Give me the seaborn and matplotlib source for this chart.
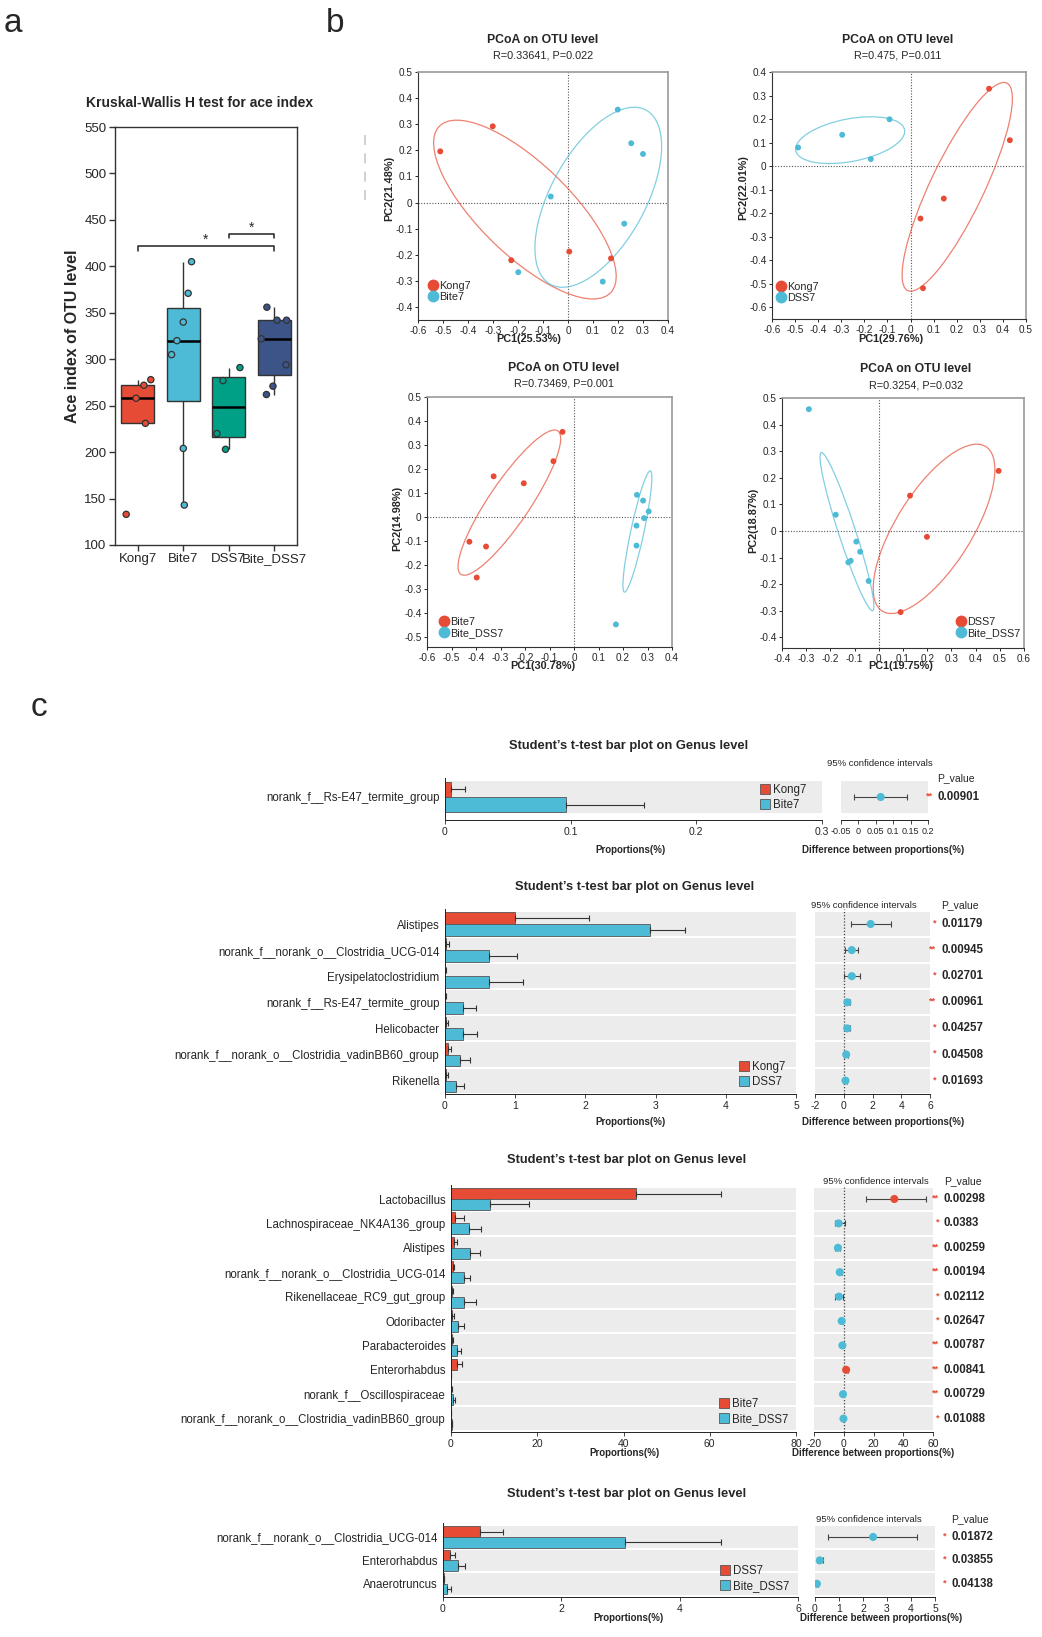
import numpy as np
import pandas as pd
import seaborn as sns
import matplotlib.pyplot as plt
from matplotlib.patches import Ellipse, Patch
from matplotlib.lines import Line2D

RED = '#E64B35'
BLUE = '#4DBBD5'
GREEN = '#00A087'
NAVY = '#3C5488'

# ---- a: ace index per group
ace_groups = ['Kong7', 'Bite7', 'DSS7', 'Bite_DSS7']
ace_kong7 = [133, 231, 258, 272, 278]
ace_bite7 = [143, 204, 305, 320, 340, 371, 405]
ace_dss7 = [203, 220, 277, 291]
ace_bite_dss7 = [262, 271, 294, 322, 342, 342, 356]

# ---- b: PCoA scores
p1_kong7_x = [-0.511, -0.301, -0.227, 0.005, 0.172]
p1_kong7_y = [0.196, 0.292, -0.221, -0.188, -0.214]
p1_bite7_x = [0.199, 0.253, 0.300, -0.069, 0.225, -0.199, 0.139]
p1_bite7_y = [0.356, 0.227, 0.186, 0.023, -0.081, -0.267, -0.303]

p2_kong7_x = [0.340, 0.144, 0.043, 0.054, 0.430]
p2_kong7_y = [0.329, -0.138, -0.223, -0.519, 0.110]
p2_dss7_x = [-0.487, -0.296, -0.091, -0.172]
p2_dss7_y = [0.079, 0.133, 0.199, 0.030]

p3_bite7_x = [-0.047, -0.084, -0.205, -0.328, -0.427, -0.359, -0.397]
p3_bite7_y = [0.355, 0.233, 0.141, 0.170, -0.102, -0.122, -0.251]
p3_bite_dss7_x = [0.257, 0.282, 0.305, 0.286, 0.255, 0.255, 0.171]
p3_bite_dss7_y = [0.093, 0.069, 0.024, -0.004, -0.035, -0.118, -0.446]

p4_dss7_x = [0.129, 0.199, 0.090, 0.495]
p4_dss7_y = [0.133, -0.022, -0.305, 0.226]
p4_bite_dss7_x = [-0.289, -0.178, -0.093, -0.077, -0.126, -0.116, -0.042]
p4_bite_dss7_y = [0.458, 0.061, -0.040, -0.078, -0.118, -0.112, -0.188]

# ---- c: t-test bar plots
c1_names = ['norank_f__Rs-E47_termite_group']
c1_kong7 = [0.005]
c1_kong7_sd = [0.011]
c1_bite7 = [0.096]
c1_bite7_sd = [0.062]
c1_diff = [0.064]
c1_lo = [-0.013]
c1_hi = [0.141]
c1_p = ['0.00901']
c1_stars = ['**']

c2_names = ['Alistipes', 'norank_f__norank_o__Clostridia_UCG-014', 'Erysipelatoclostridium',
            'norank_f__Rs-E47_termite_group', 'Helicobacter',
            'norank_f__norank_o__Clostridia_vadinBB60_group', 'Rikenella']
c2_kong7 = [1.0, 0.01, 0.005, 0.005, 0.02, 0.04, 0.02]
c2_kong7_sd = [1.05, 0.04, 0.01, 0.01, 0.02, 0.05, 0.02]
c2_dss7 = [2.92, 0.63, 0.62, 0.26, 0.25, 0.21, 0.16]
c2_dss7_sd = [0.50, 0.39, 0.49, 0.18, 0.21, 0.15, 0.11]
c2_diff = [1.87, 0.56, 0.56, 0.25, 0.24, 0.17, 0.12]
c2_lo = [0.53, 0.12, 0.04, 0.10, 0.06, 0.04, 0.03]
c2_hi = [3.28, 0.98, 1.10, 0.40, 0.42, 0.30, 0.22]
c2_p = ['0.01179', '0.00945', '0.02701', '0.00961', '0.04257', '0.04508', '0.01693']
c2_stars = ['*', '**', '*', '**', '*', '*', '*']

c3_names = ['Lactobacillus', 'Lachnospiraceae_NK4A136_group', 'Alistipes',
            'norank_f__norank_o__Clostridia_UCG-014', 'Rikenellaceae_RC9_gut_group',
            'Odoribacter', 'Parabacteroides', 'Enterorhabdus', 'norank_f__Oscillospiraceae',
            'norank_f__norank_o__Clostridia_vadinBB60_group']
c3_bite7 = [43.0, 1.0, 0.6, 0.35, 0.2, 0.2, 0.3, 1.4, 0.1, 0.05]
c3_bite7_sd = [19.5, 2.1, 0.7, 0.45, 0.15, 0.5, 0.2, 1.2, 0.1, 0.05]
c3_bite_dss7 = [9.0, 4.1, 4.3, 2.9, 3.0, 1.6, 1.4, 0.05, 0.5, 0.2]
c3_bite_dss7_sd = [9.2, 2.9, 2.5, 1.6, 2.9, 1.5, 0.9, 0.05, 0.4, 0.1]
c3_diff = [34.0, -3.4, -3.9, -2.7, -3.2, -1.4, -0.9, 1.6, -0.5, -0.2]
c3_lo = [15.1, -6.2, -5.6, -4.1, -5.9, -2.4, -1.8, 0.6, -1.0, -0.4]
c3_hi = [55.5, 0.7, -2.2, -1.3, -0.5, -0.4, 0.0, 2.6, 0.0, 0.0]
c3_p = ['0.00298', '0.0383', '0.00259', '0.00194', '0.02112',
        '0.02647', '0.00787', '0.00841', '0.00729', '0.01088']
c3_stars = ['**', '*', '**', '**', '*', '*', '**', '**', '**', '*']

c4_names = ['norank_f__norank_o__Clostridia_UCG-014', 'Enterorhabdus', 'Anaerotruncus']
c4_dss7 = [0.63, 0.12, 0.01]
c4_dss7_sd = [0.39, 0.08, 0.005]
c4_bite_dss7 = [3.07, 0.25, 0.07]
c4_bite_dss7_sd = [1.63, 0.13, 0.06]
c4_diff = [2.42, 0.20, 0.08]
c4_lo = [0.56, 0.08, 0.03]
c4_hi = [4.27, 0.32, 0.13]
c4_p = ['0.01872', '0.03855', '0.04138']
c4_stars = ['*', '*', '*']


sns.set_style('ticks')
plt.rcParams['font.family'] = ['Liberation Sans', 'DejaVu Sans']

W, H = 1042, 1637
fig = plt.figure(figsize=(W / 100, H / 100), dpi=100)


def box(x0, y0, x1, y1):
    return [x0 / W, 1 - y1 / H, (x1 - x0) / W, (y1 - y0) / H]


def put(x, y, s, **kw):
    kw.setdefault('ha', 'center')
    kw.setdefault('va', 'center')
    fig.text(x / W, 1 - y / H, s, **kw)


def fmt(v):
    return '0' if abs(v) < 1e-9 else f'{v:g}'


put(4, 23, 'a', fontsize=24, ha='left')
put(326, 23, 'b', fontsize=24, ha='left')
put(31, 708, 'c', fontsize=24, ha='left')

# ------------------------------------------------------------------ panel a
ace = pd.DataFrame({
    'group': [g for g, v in zip(ace_groups, [ace_kong7, ace_bite7, ace_dss7, ace_bite_dss7]) for _ in v],
    'ace': ace_kong7 + ace_bite7 + ace_dss7 + ace_bite_dss7})
pal_a = dict(zip(ace_groups, [RED, BLUE, GREEN, NAVY]))

ax = fig.add_axes(box(115, 127, 297, 545))
sns.boxplot(data=ace, x='group', y='ace', hue='group', order=ace_groups, palette=pal_a,
            width=0.72, saturation=1, showfliers=False, showcaps=False, linewidth=1,
            linecolor='#333333', medianprops=dict(color='black', linewidth=1.8),
            legend=False, ax=ax)
np.random.seed(7)
sns.stripplot(data=ace, x='group', y='ace', hue='group', order=ace_groups, palette=pal_a,
              jitter=0.3, size=4.5, linewidth=0.9, edgecolor='#333333', legend=False,
              ax=ax, zorder=3)


def bracket(ax, x0, x1, y, h=5):
    ax.plot([x0, x0, x1, x1], [y - h, y, y, y - h], color='#222222', lw=1.1)
    ax.text((x0 + x1) / 2, y - 1, '*', ha='center', va='bottom', fontsize=10)


bracket(ax, 0, 3, 422)
bracket(ax, 2, 3, 435)
ax.set_xlim(-0.5, 3.5)
ax.set_ylim(100, 550)
ax.set_yticks(range(100, 551, 50))
ax.set_xlabel('')
ax.set_ylabel('Ace index of OTU level', fontsize=11.5, fontweight='bold', labelpad=3)
ax.tick_params(labelsize=9.5, length=4, width=1, color='#333333', pad=2)
for sp in ax.spines.values():
    sp.set_color('#333333')
    sp.set_linewidth(1)
put(86, 103, 'Kruskal-Wallis H test for ace index', ha='left', fontsize=10, fontweight='bold')

# ------------------------------------------------------------------ panel b
K = 1.37


def pcoa(rect, xs, ys, labels, xlim, ylim, yt, title_xy, sub, xlab, xlab_xy, ylab, ylab_xy, leg_xy):
    ax = fig.add_axes(box(*rect))
    df = pd.DataFrame({'pc1': xs[0] + xs[1], 'pc2': ys[0] + ys[1],
                       'group': [labels[0]] * len(xs[0]) + [labels[1]] * len(xs[1])})
    pal = {labels[0]: RED, labels[1]: BLUE}
    ax.axvline(0, color='#555555', lw=0.8, ls=(0, (1, 1.5)), zorder=1)
    ax.axhline(0, color='#555555', lw=0.8, ls=(0, (1, 1.5)), zorder=1)
    sns.scatterplot(data=df, x='pc1', y='pc2', hue='group', palette=pal, s=18,
                    edgecolor='none', legend=False, ax=ax, zorder=3)
    for lab, col in pal.items():
        d = df[df.group == lab]
        vals, vecs = np.linalg.eigh(np.cov(d.pc1, d.pc2))
        ang = np.degrees(np.arctan2(vecs[1, 1], vecs[0, 1]))
        ax.add_patch(Ellipse((d.pc1.mean(), d.pc2.mean()), 2 * K * np.sqrt(vals[1]),
                             2 * K * np.sqrt(vals[0]), angle=ang, fill=False,
                             ec=col, lw=0.9, alpha=0.7))
    ax.set_xlim(*xlim)
    ax.set_ylim(*ylim)
    xt = np.round(np.arange(xlim[0], xlim[1] + 0.001, 0.1), 1)
    ax.set_xticks(xt)
    ax.set_xticklabels([fmt(v) for v in xt])
    ax.set_yticks(yt)
    ax.set_yticklabels([fmt(v) for v in yt])
    ax.set_xlabel('')
    ax.set_ylabel('')
    ax.tick_params(labelsize=7.2, length=2.5, width=0.7, pad=1.5)
    for s in ['left', 'bottom']:
        ax.spines[s].set_color('#333333')
        ax.spines[s].set_linewidth(0.8)
    for s in ['top', 'right']:
        ax.spines[s].set_color('#999999')
        ax.spines[s].set_linewidth(1.2)
    put(*title_xy, 'PCoA on OTU level', fontsize=8.8, fontweight='bold')
    put(title_xy[0], title_xy[1] + 16, sub, fontsize=7.8)
    put(*xlab_xy, xlab, fontsize=7.8, fontweight='bold')
    put(*ylab_xy, ylab, fontsize=7.8, fontweight='bold', rotation=90)
    handles = [Line2D([], [], marker='o', ls='', color=c, markersize=7.5) for c in (RED, BLUE)]
    ax.legend(handles, labels, loc='upper left', bbox_to_anchor=(leg_xy[0] / W, 1 - leg_xy[1] / H),
              bbox_transform=fig.transFigure, frameon=False, fontsize=7.8, handletextpad=0.05,
              labelspacing=0.1, borderpad=0, borderaxespad=0, handlelength=1)


pcoa((418, 72, 668, 320), [p1_kong7_x, p1_bite7_x], [p1_kong7_y, p1_bite7_y], ['Kong7', 'Bite7'],
     (-0.6, 0.4), (-0.45, 0.5), np.round(np.arange(-0.4, 0.51, 0.1), 1), (543, 40),
     'R=0.33641, P=0.022', 'PC1(25.53%)', (529, 339), 'PC2(21.48%)', (389, 188), (428, 281))
pcoa((772, 72, 1026, 319), [p2_kong7_x, p2_dss7_x], [p2_kong7_y, p2_dss7_y], ['Kong7', 'DSS7'],
     (-0.6, 0.5), (-0.65, 0.4), np.round(np.arange(-0.6, 0.41, 0.1), 1), (898, 40),
     'R=0.475, P=0.011', 'PC1(29.76%)', (891, 339), 'PC2(22.01%)', (743, 188), (776, 282))
pcoa((427, 397, 672, 647), [p3_bite7_x, p3_bite_dss7_x], [p3_bite7_y, p3_bite_dss7_y],
     ['Bite7', 'Bite_DSS7'], (-0.6, 0.4), (-0.54, 0.5), np.round(np.arange(-0.5, 0.51, 0.1), 1),
     (564, 368), 'R=0.73469, P=0.001', 'PC1(30.78%)', (543, 666), 'PC2(14.98%)', (397, 518),
     (439, 617))
pcoa((782, 398, 1024, 648), [p4_dss7_x, p4_bite_dss7_x], [p4_dss7_y, p4_bite_dss7_y],
     ['DSS7', 'Bite_DSS7'], (-0.4, 0.6), (-0.44, 0.5), np.round(np.arange(-0.4, 0.51, 0.1), 1),
     (916, 369), 'R=0.3254, P=0.032', 'PC1(19.75%)', (901, 666), 'PC2(18.87%)', (753, 520),
     (956, 617))
fig.add_artist(Line2D([365 / W] * 2, [1 - 135 / H, 1 - 207 / H], color='#c8c8c8', lw=1.2,
                      ls=(0, (6, 5))))

# ------------------------------------------------------------------ panel c


def ttest(names, g1, m1, s1, g2, m2, s2, diff, lo, hi, pv, stars, L):
    n = len(names)
    yy = np.arange(n)
    ylim = ((L['bottom'] - L['c0']) / L['step'], (L['top'] - L['c0']) / L['step'])

    ax = fig.add_axes(box(L['bar'][0], L['top'], L['bar'][1], L['bottom']))
    for i in yy:
        ax.axhspan(i - 0.46, i + 0.46, color='#ececec', lw=0, zorder=0)
    df = pd.DataFrame({'name': names * 2, 'group': [g1] * n + [g2] * n, 'value': m1 + m2})
    sns.barplot(data=df, x='value', y='name', hue='group', order=names, hue_order=[g1, g2],
                palette=[RED, BLUE], orient='h', width=0.9, saturation=1, edgecolor='#555555',
                linewidth=0.6, errorbar=None, legend=False, ax=ax)
    ax.errorbar(m1, yy - 0.225, xerr=[np.zeros(n), s1], fmt='none', ecolor='#333333',
                elinewidth=0.8, capsize=2.2, capthick=0.8)
    ax.errorbar(m2, yy + 0.225, xerr=[np.zeros(n), s2], fmt='none', ecolor='#333333',
                elinewidth=0.8, capsize=2.2, capthick=0.8)
    ax.set_ylim(*ylim)
    ax.set_xlim(*L['blim'])
    ax.set_xticks(L['bticks'])
    ax.set_xticklabels([fmt(v) for v in L['bticks']])
    ax.set_xlabel('')
    ax.set_ylabel('')
    ax.tick_params(axis='y', length=0, labelsize=8.3, pad=4)
    ax.tick_params(axis='x', length=3, width=0.6, labelsize=7.5, pad=2)
    for s in ['top', 'right']:
        ax.spines[s].set_visible(False)
    for s in ['left', 'bottom']:
        ax.spines[s].set_color('#222222')
        ax.spines[s].set_linewidth(0.7)
    handles = [Patch(fc=RED, ec='#555555', lw=0.6), Patch(fc=BLUE, ec='#555555', lw=0.6)]
    ax.legend(handles, [g1, g2], loc='upper left',
              bbox_to_anchor=(L['leg'][0] / W, 1 - L['leg'][1] / H),
              bbox_transform=fig.transFigure, frameon=False, fontsize=8.3,
              handlelength=0.9, handleheight=0.9, handletextpad=0.2, labelspacing=0.25,
              borderpad=0, borderaxespad=0)

    cx = fig.add_axes(box(L['ci'][0], L['top'], L['ci'][1], L['bottom']))
    for i in yy:
        cx.axhspan(i - 0.46, i + 0.46, color='#ececec', lw=0, zorder=0)
    if L['zero']:
        cx.axvline(0, color='#444444', lw=0.9, ls=(0, (1, 1.5)), zorder=1)
    d = np.array(diff)
    cx.errorbar(d, yy, xerr=[d - np.array(lo), np.array(hi) - d], fmt='none', ecolor='#444444',
                elinewidth=0.8, capsize=2, capthick=0.8, zorder=2)
    win = [g1 if a > b else g2 for a, b in zip(m1, m2)]
    sns.scatterplot(x=d, y=yy, hue=win, palette={g1: RED, g2: BLUE}, s=34, edgecolor='none',
                    legend=False, ax=cx, zorder=3)
    cx.set_ylim(*ylim)
    cx.set_xlim(*L['clim'])
    cx.set_xticks(L['cticks'])
    cx.set_xticklabels([fmt(v) for v in L['cticks']])
    cx.set_yticks([])
    cx.tick_params(axis='x', length=3, width=0.6, labelsize=L.get('csize', 7.5), pad=2)
    for s in ['top', 'right', 'left']:
        cx.spines[s].set_visible(False)
    cx.spines['bottom'].set_color('#222222')
    cx.spines['bottom'].set_linewidth(0.7)

    put(*L['title'], 'Student\u2019s t-test bar plot on Genus level', fontsize=9.3, fontweight='bold')
    put(*L['blab'], 'Proportions(%)', fontsize=7, fontweight='bold')
    put(*L['clab'], 'Difference between proportions(%)', fontsize=7, fontweight='bold')
    put(*L['ci_head'], '95% confidence intervals', fontsize=6.8)
    put(L['p_x'], L['p_head'], 'P_value', ha='left', fontsize=7.5)
    for i in yy:
        y = L['c0'] + i * L['step']
        put(L['star_x'], y - 1, stars[i], ha='right', color=RED, fontsize=6.5, fontweight='bold')
        put(L['p_x'], y, pv[i], ha='left', fontsize=8.3, fontweight='bold')


ttest(c1_names, 'Kong7', c1_kong7, c1_kong7_sd, 'Bite7', c1_bite7, c1_bite7_sd,
      c1_diff, c1_lo, c1_hi, c1_p, c1_stars,
      dict(top=778, c0=797, step=34, bottom=820, bar=(445, 822), ci=(841, 928),
           blim=(0, 0.3), bticks=[0, 0.1, 0.2, 0.3], clim=(-0.05, 0.2),
           cticks=[-0.05, 0, 0.05, 0.1, 0.15, 0.2], csize=6.5, zero=False, leg=(760, 784),
           title=(629, 746), blab=(631, 850), clab=(883, 850), ci_head=(880, 763),
           p_head=778, p_x=937, star_x=933))
ttest(c2_names, 'Kong7', c2_kong7, c2_kong7_sd, 'DSS7', c2_dss7, c2_dss7_sd,
      c2_diff, c2_lo, c2_hi, c2_p, c2_stars,
      dict(top=909, c0=924, step=26.1, bottom=1094, bar=(445, 796), ci=(815, 930),
           blim=(0, 5), bticks=[0, 1, 2, 3, 4, 5], clim=(-2, 6),
           cticks=[-2, 0, 2, 4, 6], zero=True, leg=(739, 1061),
           title=(635, 887), blab=(631, 1122), clab=(883, 1122), ci_head=(864, 905),
           p_head=905, p_x=941, star_x=936))
ttest(c3_names, 'Bite7', c3_bite7, c3_bite7_sd, 'Bite_DSS7', c3_bite_dss7, c3_bite_dss7_sd,
      c3_diff, c3_lo, c3_hi, c3_p, c3_stars,
      dict(top=1185, c0=1199, step=24.4, bottom=1432, bar=(451, 796), ci=(814, 933),
           blim=(0, 80), bticks=[0, 20, 40, 60, 80], clim=(-20, 60),
           cticks=[-20, 0, 20, 40, 60], zero=True, leg=(719, 1398),
           title=(627, 1160), blab=(625, 1453), clab=(873, 1453), ci_head=(876, 1181),
           p_head=1181, p_x=944, star_x=939))
ttest(c4_names, 'DSS7', c4_dss7, c4_dss7_sd, 'Bite_DSS7', c4_bite_dss7, c4_bite_dss7_sd,
      c4_diff, c4_lo, c4_hi, c4_p, c4_stars,
      dict(top=1523, c0=1537, step=23.4, bottom=1597, bar=(443, 798), ci=(815, 935),
           blim=(0, 6), bticks=[0, 2, 4, 6], clim=(0, 5),
           cticks=[0, 1, 2, 3, 4, 5], zero=False, leg=(720, 1565),
           title=(627, 1494), blab=(629, 1618), clab=(881, 1618), ci_head=(869, 1519),
           p_head=1519, p_x=951, star_x=946))

fig.savefig('out.png', dpi=100, facecolor='white')
